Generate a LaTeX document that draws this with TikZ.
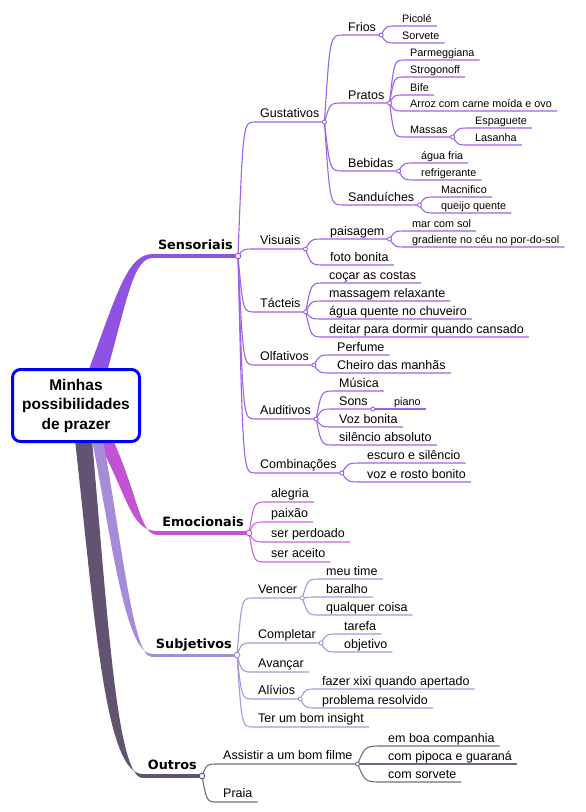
\documentclass[tikz,border=0pt]{standalone}
\usepackage{fontspec}
\setmainfont{Liberation Sans}
\newfontfamily\topicfont{DejaVu Sans}
\usetikzlibrary{calc,backgrounds}

\definecolor{hubblue}{RGB}{0,0,255}
\definecolor{sensband}{RGB}{143,82,227}
\definecolor{sensline}{RGB}{155,98,235}
\definecolor{emoband}{RGB}{196,82,212}
\definecolor{emoline}{RGB}{205,100,222}
\definecolor{subjband}{RGB}{166,139,216}
\definecolor{subjline}{RGB}{170,148,218}
\definecolor{outrband}{RGB}{98,84,112}
\definecolor{outrline}{RGB}{118,104,132}

\newcommand\fhub{\bfseries\fontsize{15.5}{19.5}\selectfont}
\newcommand\fmain{\topicfont\bfseries\fontsize{12.8}{15}\selectfont}
\newcommand\fsub{\fontsize{12.5}{15}\selectfont}
\newcommand\fleaf{\fontsize{10.8}{13}\selectfont}

\tikzset{
  hub/.style={draw=hubblue, line width=3pt, rounded corners=8pt, fill=white,
    align=center, minimum width=127pt, minimum height=72pt, font=\fhub},
  mainbr/.style={anchor=south east, inner xsep=5pt, inner ysep=6pt, text depth=0pt, font=\fmain},
  lvtwo/.style={anchor=south west, inner xsep=5pt, inner ysep=4.5pt, text depth=0pt, font=\fsub},
  lvthree/.style={lvtwo, inner ysep=3.5pt},
  leaf/.style={lvtwo, inner ysep=3pt, font=\fleaf},
  ln/.style={draw=#1, line width=1.1pt},
  knob/.style={draw=#1, fill=white, line width=0.9pt},
  twig/.style={to path={.. controls ($(\tikztostart |- \tikztotarget)!0.3!(\tikztotarget)$) .. (\tikztotarget)}}
}

\begin{document}
\begin{tikzpicture}[x=1pt, y=-1pt]
\useasboundingbox (0,0) rectangle (586,812);

\node[hub] (hub) at (76,405.5) {Minhas\\possibilidades\\de prazer};

% main topics
\node[mainbr] (sens) at (238,256) {Sensoriais};
\node[mainbr] (emo) at (249,533) {Emocionais};
\node[mainbr] (subj) at (237,655) {Subjetivos};
\node[mainbr] (outr) at (202,776) {Outros};

\begin{scope}[on background layer]
  \fill[sensband] (88,372) .. controls (118,290) and (128,254) .. ([yshift=2pt]sens.south west)
    -- ([yshift=-2pt]sens.south west) .. controls (134,258) and (128,295) .. (107,372) -- cycle;
  \fill[emoband] (97,440) .. controls (128,495) and (130,531) .. ([yshift=2pt]emo.south west)
    -- ([yshift=-2pt]emo.south west) .. controls (140,535) and (138,495) .. (113,440) -- cycle;
  \fill[subjband] (92,440) .. controls (110,530) and (125,653) .. ([yshift=1.5pt]subj.south west)
    -- ([yshift=-1.5pt]subj.south west) .. controls (133,657) and (120,530) .. (103,440) -- cycle;
  \fill[outrband] (75,440) .. controls (95,620) and (105,774) .. ([yshift=2pt]outr.south west)
    -- ([yshift=-2pt]outr.south west) .. controls (117,778) and (108,620) .. (92,440) -- cycle;
\end{scope}
\draw[sensband, line width=4pt] (sens.south west) -- (sens.south east);
\draw[emoband, line width=4pt] (emo.south west) -- (emo.south east);
\draw[subjband, line width=3pt] (subj.south west) -- (subj.south east);
\draw[outrband, line width=3.5pt] (outr.south west) -- (outr.south east);

% Sensoriais
\node[lvtwo] (gust) at (255,122) {Gustativos};
\node[lvtwo] (vis) at (255,249) {Visuais};
\node[lvtwo] (tac) at (255,312) {Tácteis};
\node[lvtwo] (olf) at (255,365) {Olfativos};
\node[lvtwo] (aud) at (255,419) {Auditivos};
\node[lvtwo] (comb) at (255,473) {Combinações};

\node[lvthree] (frios) at (343,35) {Frios};
\node[lvthree] (pratos) at (343,103) {Pratos};
\node[lvthree] (bebidas) at (343,171) {Bebidas};
\node[lvthree] (sanduiches) at (343,205) {Sanduíches};
\node[leaf] (picole) at (397,26) {Picolé};
\node[leaf] (sorvete) at (397,43) {Sorvete};
\node[leaf] (parme) at (405,60) {Parmeggiana};
\node[leaf] (strog) at (405,77) {Strogonoff};
\node[leaf] (bife) at (405,95) {Bife};
\node[leaf] (arroz) at (405,111) {Arroz com carne moída e ovo};
\node[leaf] (massas) at (405,137) {Massas};
\node[leaf] (espag) at (470,128) {Espaguete};
\node[leaf] (lasanha) at (470,145) {Lasanha};
\node[leaf] (agua) at (416,163) {água fria};
\node[leaf] (refri) at (416,180) {refrigerante};
\node[leaf] (macni) at (436,197) {Macnifico};
\node[leaf] (queijo) at (436,213) {queijo quente};

\node[lvthree] (pais) at (325,239) {paisagem};
\node[lvthree] (foto) at (325,265) {foto bonita};
\node[leaf] (mar) at (407,231) {mar com sol};
\node[leaf] (grad) at (407,247) {gradiente no céu no por-do-sol};

\node[lvthree] (cocar) at (324,283) {coçar as costas};
\node[lvthree] (massag) at (324,301) {massagem relaxante};
\node[lvthree] (aguaq) at (324,319) {água quente no chuveiro};
\node[lvthree] (deitar) at (324,337) {deitar para dormir quando cansado};

\node[lvthree] (perf) at (332,355) {Perfume};
\node[lvthree] (cheiro) at (332,373) {Cheiro das manhãs};

\node[lvthree] (musica) at (334,391) {Música};
\node[lvthree] (sons) at (334,409) {Sons};
\node[lvthree] (voz) at (334,427) {Voz bonita};
\node[lvthree] (silencio) at (334,445) {silêncio absoluto};
\node[leaf] (piano) at (389,409) {piano};

\node[lvthree] (escuro) at (362,463) {escuro e silêncio};
\node[lvthree] (rosto) at (362,482) {voz e rosto bonito};

% Emocionais
\node[lvtwo] (alegria) at (266,502) {alegria};
\node[lvtwo] (paixao) at (266,522) {paixão};
\node[lvtwo] (perdoado) at (266,542) {ser perdoado};
\node[lvtwo] (aceito) at (266,562) {ser aceito};

% Subjetivos
\node[lvtwo] (vencer) at (253,598) {Vencer};
\node[lvtwo] (complet) at (253,643) {Completar};
\node[lvtwo] (avancar) at (253,672) {Avançar};
\node[lvtwo] (alivios) at (253,699) {Alívios};
\node[lvtwo] (insight) at (253,727) {Ter um bom insight};
\node[lvthree] (time) at (321,579) {meu time};
\node[lvthree] (baralho) at (321,597) {baralho};
\node[lvthree] (qualquer) at (321,615) {qualquer coisa};
\node[lvthree] (tarefa) at (339,634) {tarefa};
\node[lvthree] (objetivo) at (339,652) {objetivo};
\node[lvthree] (xixi) at (317,689) {fazer xixi quando apertado};
\node[lvthree] (resolvido) at (317,708) {problema resolvido};

% Outros
\node[lvtwo] (filme) at (218,764) {Assistir a um bom filme};
\node[lvtwo] (praia) at (218,802) {Praia};
\node[lvthree] (companhia) at (383,746) {em boa companhia};
\node[lvthree] (pipoca) at (383,764) {com pipoca e guaraná};
\node[lvthree] (comsorvete) at (383,782) {com sorvete};

% connectors
\foreach \col/\p/\cs in {
    sensline/sens/{gust,vis,tac,olf,aud,comb},
    sensline/gust/{frios,pratos,bebidas,sanduiches},
    sensline/frios/{picole,sorvete},
    sensline/pratos/{parme,strog,bife,arroz,massas},
    sensline/massas/{espag,lasanha},
    sensline/bebidas/{agua,refri},
    sensline/sanduiches/{macni,queijo},
    sensline/vis/{pais,foto},
    sensline/pais/{mar,grad},
    sensline/tac/{cocar,massag,aguaq,deitar},
    sensline/olf/{perf,cheiro},
    sensline/aud/{musica,sons,voz,silencio},
    sensline/sons/{piano},
    sensline/comb/{escuro,rosto},
    emoline/emo/{alegria,paixao,perdoado,aceito},
    subjline/subj/{vencer,complet,avancar,alivios,insight},
    subjline/vencer/{time,baralho,qualquer},
    subjline/complet/{tarefa,objetivo},
    subjline/alivios/{xixi,resolvido},
    outrline/outr/{filme,praia},
    outrline/filme/{companhia,pipoca,comsorvete}}
  \foreach \c in \cs
    \draw[ln=\col] (\p.south east) to[twig] (\c.south west) -- (\c.south east);

% knobs
\foreach \col/\p in {sensband/sens, emoband/emo, subjband/subj, outrband/outr}
  \draw[knob=\col] (\p.south east) circle (2.8pt);
\foreach \col/\p in {sensline/gust, sensline/frios, sensline/pratos, sensline/massas,
    sensline/bebidas, sensline/sanduiches, sensline/vis, sensline/pais, sensline/tac,
    sensline/olf, sensline/aud, sensline/sons, sensline/comb, subjline/vencer,
    subjline/complet, subjline/alivios, outrline/filme}
  \draw[knob=\col] (\p.south east) circle (2pt);
\end{tikzpicture}
\end{document}
